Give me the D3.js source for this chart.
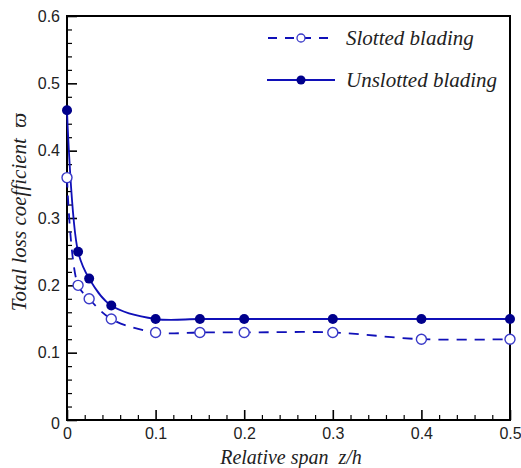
<!DOCTYPE html>
<html><head><meta charset="utf-8">
<script src="https://cdn.jsdelivr.net/npm/d3@7"></script>
<style>body{margin:0;background:#fff}</style>
</head><body>
<svg id="c" width="521" height="468"></svg>
<script>
const spans = [0, 0.0125, 0.025, 0.05, 0.1, 0.15, 0.2, 0.3, 0.4, 0.5];
const slotted = [0.36, 0.20, 0.18, 0.15, 0.13, 0.13, 0.13, 0.13, 0.12, 0.12];
const unslotted = [0.46, 0.25, 0.21, 0.17, 0.15, 0.15, 0.15, 0.15, 0.15, 0.15];
const xTicks = [0, 0.1, 0.2, 0.3, 0.4, 0.5];
const yTicks = [0, 0.1, 0.2, 0.3, 0.4, 0.5, 0.6];
const seriesNames = ["Slotted blading", "Unslotted blading"];

const svg = d3.select("#c");
const L = 67, R = 510, T = 16, B = 420;
const x = d3.scaleLinear().domain([0, 0.5]).range([L, R]);
const y = d3.scaleLinear().domain([0, 0.6]).range([B, T]);
const lineCol = "#1010b8", darkCol = "#00008c", openCol = "#3a3ac8";

// minor ticks
const xMinor = d3.range(0, 0.5001, 0.02).filter(v => Math.abs(v*10 - Math.round(v*10)) > 1e-6);
const yMinor = d3.range(0, 0.6001, 0.02).filter(v => Math.abs(v*10 - Math.round(v*10)) > 1e-6);

const xAxis = d3.axisBottom(x).tickValues(xTicks).tickFormat(d => d === 0 ? "0" : d3.format(".1f")(d)).tickSizeInner(-10).tickSizeOuter(0).tickPadding(6);
const yAxis = d3.axisLeft(y).tickValues(yTicks).tickFormat(d => d === 0 ? "0" : d3.format(".1f")(d)).tickSizeInner(-10).tickSizeOuter(0).tickPadding(7);

const gx = svg.append("g").attr("transform", `translate(0,${B})`).call(xAxis);
const gy = svg.append("g").attr("transform", `translate(${L},0)`).call(yAxis);
[gx, gy].forEach(g => {
  g.selectAll("text").attr("font-family", "Liberation Sans, Arial, sans-serif").attr("font-size", 16).attr("fill", "#222");
  g.selectAll("line").attr("stroke", "#000").attr("stroke-width", 1.6);
  g.select(".domain").attr("stroke", "none");
});
gx.selectAll(".tick text").attr("dy", "0.8em");
gy.selectAll(".tick text").filter(d => d === 0).attr("dy", "0.5em");

svg.append("g").attr("transform", `translate(0,${B})`)
  .call(d3.axisBottom(x).tickValues(xMinor).tickSizeInner(-5).tickSizeOuter(0).tickFormat(""))
  .call(g => { g.select(".domain").remove(); g.selectAll("line").attr("stroke", "#000").attr("stroke-width", 1.2); });
svg.append("g").attr("transform", `translate(${L},0)`)
  .call(d3.axisLeft(y).tickValues(yMinor).tickSizeInner(-5).tickSizeOuter(0).tickFormat(""))
  .call(g => { g.select(".domain").remove(); g.selectAll("line").attr("stroke", "#000").attr("stroke-width", 1.2); });

// frame
svg.append("rect").attr("x", L).attr("y", T).attr("width", R - L).attr("height", B - T)
  .attr("fill", "none").attr("stroke", "#000").attr("stroke-width", 2);

const line = d3.line().x((d, i) => x(spans[i])).y(d => y(d)).curve(d3.curveCatmullRom.alpha(0.5));

svg.append("path").attr("d", line(slotted)).attr("fill", "none").attr("stroke", lineCol)
  .attr("stroke-width", 1.8).attr("stroke-dasharray", "10,8");
svg.append("path").attr("d", line(unslotted)).attr("fill", "none").attr("stroke", lineCol)
  .attr("stroke-width", 1.8);

svg.append("g").selectAll("circle").data(slotted).join("circle")
  .attr("cx", (d, i) => x(spans[i])).attr("cy", d => y(d)).attr("r", 5)
  .attr("fill", "#fff").attr("stroke", openCol).attr("stroke-width", 1.4);
svg.append("g").selectAll("circle").data(unslotted).join("circle")
  .attr("cx", (d, i) => x(spans[i])).attr("cy", d => y(d)).attr("r", 5)
  .attr("fill", darkCol);

// legend
const lg = svg.append("g");
const items = [{y: 38, dash: "8,7", open: true}, {y: 80, dash: null, open: false}];
items.forEach((it, k) => {
  const ln = lg.append("line").attr("x1", 267).attr("x2", 335).attr("y1", it.y).attr("y2", it.y)
    .attr("stroke", lineCol).attr("stroke-width", 1.8);
  if (it.dash) ln.attr("stroke-dasharray", "9,8").attr("stroke-dashoffset", -1);
  lg.append("circle").attr("cx", 301).attr("cy", it.y).attr("r", it.open ? 4 : 4.5)
    .attr("fill", it.open ? "#fff" : darkCol).attr("stroke", it.open ? openCol : "none").attr("stroke-width", 1.3);
  lg.append("text").attr("x", 346).attr("y", it.y).attr("dy", "0.33em")
    .attr("font-family", "Liberation Serif, Times New Roman, serif").attr("font-style", "italic")
    .attr("font-size", 21).attr("fill", "#222").text(seriesNames[k]);
});

// axis titles
svg.append("text").attr("x", 291).attr("y", 464)
  .attr("text-anchor", "middle").attr("font-family", "Liberation Serif, Times New Roman, serif")
  .attr("font-style", "italic").attr("font-size", 20).attr("fill", "#222")
  .text("Relative span\u00a0\u00a0z/h");
svg.append("text").attr("transform", "translate(26,212) rotate(-90)")
  .attr("text-anchor", "middle").attr("font-family", "Liberation Serif, Times New Roman, serif")
  .attr("font-style", "italic").attr("font-size", 21).attr("fill", "#222")
  .text("Total loss coefficient\u00a0\u00a0\u03D6");
</script>
</body></html>
